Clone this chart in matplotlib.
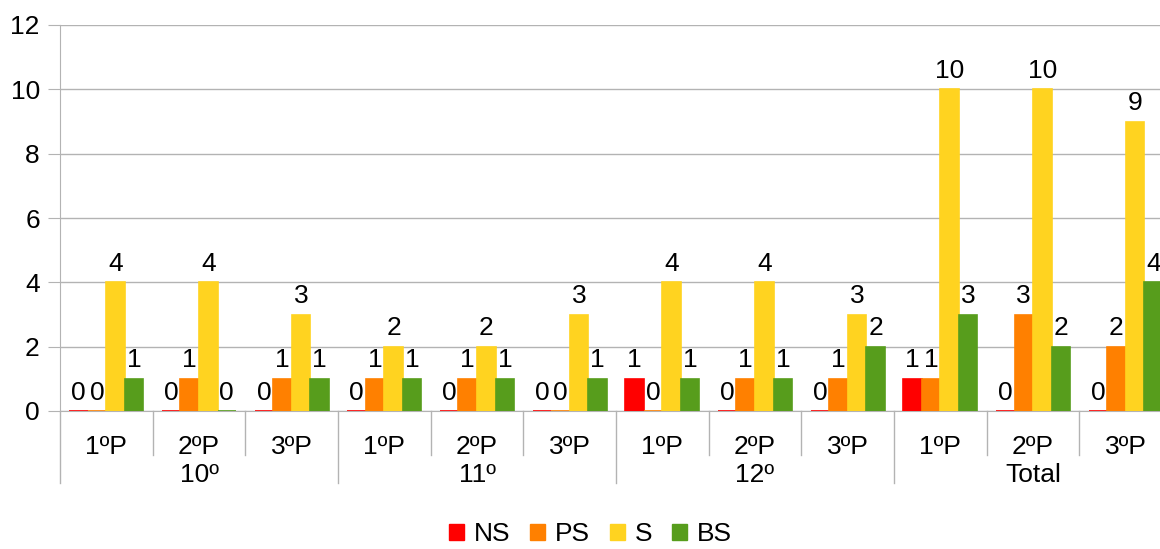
import numpy as np
import matplotlib.pyplot as plt
import matplotlib.transforms as mtransforms
from matplotlib.patches import Patch

plt.rcParams['font.family'] = ['Liberation Sans', 'DejaVu Sans']

# --- DATA ---
periods = ["1ºP", "2ºP", "3ºP"] * 4
years = ["10º", "11º", "12º", "Total"]
series = ["NS", "PS", "S", "BS"]
ns = [0, 0, 0, 0, 0, 0, 1, 0, 0, 1, 0, 0]
ps = [0, 1, 1, 1, 1, 0, 0, 1, 1, 1, 3, 2]
s = [4, 4, 3, 2, 2, 3, 4, 4, 3, 10, 10, 9]
bs = [1, 0, 1, 1, 1, 1, 1, 1, 2, 3, 2, 4]
colors = ["#ff0000", "#ff8000", "#ffd320", "#579d1c"]

FS = 19

# --- PLOT ---
fig = plt.figure(figsize=(11.6, 5.49), dpi=100)
ax = fig.add_axes([60 / 1160, 138 / 549, 1100 / 1160, 386 / 549])

x = np.arange(len(periods))
w = 0.2
for k, (vals, col) in enumerate(zip([ns, ps, s, bs], colors)):
    pos = x + (k - 1.5) * w
    ax.bar(pos, vals, width=w, color=col, edgecolor=col, linewidth=1.2, zorder=3)
    for xp, v in zip(pos, vals):
        ax.text(xp, v + 0.2, str(v), ha='center', va='bottom', fontsize=FS, zorder=4)

ax.set_xlim(-0.5, 11.37)
ax.set_ylim(0, 12)
ax.set_yticks(range(0, 13, 2))
ax.tick_params(axis='y', labelsize=FS, length=8.5, color='#b3b3b3', pad=6)
ax.set_xticks([])
ax.grid(axis='y', color='#b3b3b3', linewidth=1, zorder=0)
for sp in ['top', 'right']:
    ax.spines[sp].set_visible(False)
ax.spines['left'].set_color('#b3b3b3')
ax.spines['bottom'].set_color('#b3b3b3')

# hierarchical category axis
trans = mtransforms.blended_transform_factory(ax.transData, ax.transAxes)
for i in range(len(periods) + 1):
    xb = i - 0.5
    depth = -0.187 if i % 3 == 0 else -0.114
    ax.plot([xb, xb], [0, depth], transform=trans, color='#b3b3b3',
            linewidth=1, clip_on=False)
for i, lab in enumerate(periods):
    ax.text(i, -0.093, lab, transform=trans, ha='center', va='center', fontsize=FS)
for j, yr in enumerate(years):
    ax.text(3 * j + 1, -0.167, yr, transform=trans, ha='center', va='center', fontsize=FS)

handles = [Patch(color=c, label=n) for c, n in zip(colors, series)]
fig.legend(handles=handles, loc='lower center', bbox_to_anchor=(0.509, -0.038), ncol=4,
           frameon=False, fontsize=FS, handlelength=0.58, handleheight=0.58,
           handletextpad=0.38, columnspacing=0.73)

fig.savefig('out.png', dpi=100)
